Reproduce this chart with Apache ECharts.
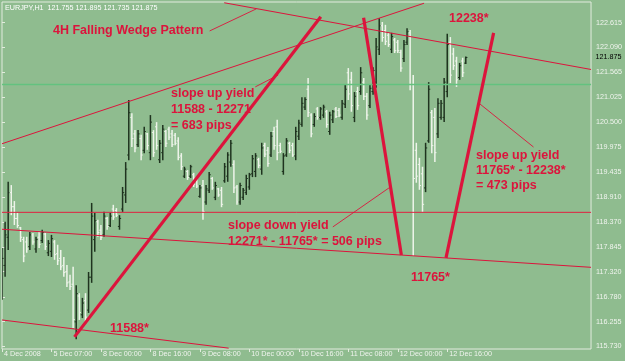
<!DOCTYPE html>
<html><head><meta charset="utf-8">
<script src="https://cdn.jsdelivr.net/npm/echarts@6/dist/echarts.min.js"></script>
<style>html,body{margin:0;padding:0;background:#8fbc8f;overflow:hidden}#c{width:625px;height:361px}</style>
</head><body><div id="c"></div><script>
const SYMBOL = 'EURJPY,H1';
const X_TICK_INDEX = [0,16,32,48,64,80,96,112,128,144];
const X_TICK_LABELS = ['4 Dec 2008','5 Dec 07:00','8 Dec 00:00','8 Dec 16:00','9 Dec 08:00','10 Dec 00:00','10 Dec 16:00','11 Dec 08:00','12 Dec 00:00','12 Dec 16:00'];
const Y_TICKS = [115.730,116.255,116.780,117.320,117.845,118.370,118.910,119.435,119.975,120.500,121.025,121.565,122.090,122.615];

const OPEN = [117.05,117.45,118.05,119.00,118.70,118.45,118.25,118.00,117.95,117.85,
118.10,117.80,118.05,117.98,118.12,117.72,117.75,117.95,117.70,117.60,
117.45,117.32,117.10,117.05,116.25,116.80,116.40,116.70,116.50,117.20,
118.00,118.38,118.20,118.10,118.45,118.30,118.65,118.62,118.28,118.65,
118.95,119.80,120.60,120.25,120.02,120.15,119.90,120.25,119.85,120.28,
120.40,119.70,119.85,120.30,120.35,120.25,120.22,120.10,119.78,119.35,
119.45,119.35,119.38,119.28,118.92,119.15,118.80,119.05,119.30,118.90,
119.08,119.05,119.25,119.35,119.65,119.60,119.12,118.80,118.90,119.00,
119.12,119.40,119.45,119.70,119.50,120.00,119.90,119.80,120.30,120.40,
120.00,119.45,119.80,120.05,120.00,119.78,120.20,120.45,120.82,121.20,
120.65,120.45,120.78,120.60,120.65,120.72,120.30,120.55,120.78,120.75,
120.60,120.88,121.55,121.40,120.60,121.15,121.15,121.35,121.05,120.85,
121.15,121.35,122.05,122.55,122.45,122.35,122.05,122.25,122.20,121.98,
121.85,122.20,122.40,121.30,119.90,119.60,119.40,119.10,120.10,120.70,
120.60,120.25,120.60,120.60,121.15,122.20,121.95,121.80,121.45,121.80,
121.755];
const HIGH = [117.82,118.38,119.23,119.16,118.82,118.57,118.27,118.06,118.06,118.16,
118.14,118.06,118.16,118.21,118.14,117.99,118.10,117.99,117.89,117.78,
117.63,117.46,117.25,117.42,117.03,116.86,116.76,116.86,117.31,118.78,
118.57,118.42,118.31,118.59,118.48,118.57,118.74,118.67,118.52,119.12,
119.65,120.97,120.69,120.33,120.33,120.23,120.40,120.27,120.65,120.33,
120.50,120.12,120.44,120.33,120.40,120.33,120.27,120.18,119.84,119.55,
119.48,119.59,119.42,119.33,119.16,119.27,119.16,119.44,119.33,119.23,
119.10,119.12,119.63,119.86,120.12,119.69,119.16,119.21,119.10,119.38,
119.42,119.80,119.84,119.74,120.06,120.06,119.97,120.29,120.40,120.55,
120.06,119.84,120.16,120.08,120.06,120.40,120.55,121.03,121.03,121.44,
120.69,120.69,120.82,120.82,120.87,120.76,120.72,120.76,120.82,120.80,
120.97,121.29,121.65,121.57,121.14,121.25,121.67,121.44,121.12,121.29,
121.67,122.29,122.71,122.63,122.57,122.40,122.40,122.29,122.25,122.04,
122.25,122.50,122.46,121.50,120.06,119.74,119.55,120.06,121.35,120.76,
120.80,121.01,120.97,121.44,122.38,122.31,122.08,121.89,121.76,121.87,
121.895];
const LOW = [116.72,117.21,117.78,118.52,118.31,118.25,117.95,117.52,117.72,117.78,
117.89,117.72,117.82,117.93,117.78,117.65,117.63,117.57,117.46,117.35,
117.21,116.99,116.93,116.12,115.88,116.29,116.33,116.23,116.44,117.08,
117.74,118.06,117.99,118.06,118.21,118.27,118.42,118.48,118.21,118.59,
118.78,119.69,119.97,119.86,119.97,119.69,119.84,119.91,119.69,119.76,
119.91,119.63,119.69,119.97,120.12,119.97,120.01,119.69,119.48,119.31,
119.27,119.31,119.12,119.10,118.89,118.42,118.74,118.99,119.06,118.84,
118.91,118.69,119.21,119.23,119.55,118.99,118.74,118.74,118.84,118.95,
119.06,119.33,119.33,119.52,119.38,119.76,119.55,119.76,119.91,119.69,
119.84,119.38,119.76,119.84,119.76,119.69,120.12,120.40,120.76,120.61,
120.18,120.40,120.55,120.55,120.59,120.38,120.23,120.48,120.59,120.61,
120.55,120.80,120.97,120.72,120.50,120.76,121.08,120.97,120.55,120.80,
121.08,121.23,121.93,122.21,122.14,122.10,121.97,121.97,121.97,121.57,
121.78,122.14,121.18,117.65,119.21,119.06,118.59,119.01,120.06,119.84,
119.65,120.16,120.55,120.50,121.03,121.33,121.61,121.25,121.40,121.46,
121.735];
const CLOSE = [117.60,118.10,119.00,118.70,118.45,118.30,118.05,117.65,117.80,118.10,
117.95,118.00,117.90,118.15,117.85,117.92,118.02,117.68,117.55,117.42,
117.30,117.08,117.00,116.30,116.85,116.45,116.65,116.35,117.20,118.50,
118.40,118.15,118.05,118.50,118.28,118.50,118.48,118.52,118.45,119.00,
119.50,120.70,120.15,119.95,120.25,119.80,120.30,120.00,120.50,119.85,
120.00,120.05,120.35,120.05,120.18,120.02,120.05,119.75,119.55,119.50,
119.32,119.55,119.18,119.14,119.10,118.60,119.08,119.38,119.10,119.15,
118.95,118.75,119.55,119.80,120.05,119.10,118.80,119.15,119.05,119.30,
119.38,119.72,119.78,119.58,119.95,119.82,119.62,120.20,120.00,119.85,
119.88,119.78,120.10,119.90,119.80,120.30,120.48,120.90,120.98,120.70,
120.25,120.62,120.60,120.78,120.82,120.45,120.65,120.72,120.62,120.65,
120.90,121.20,121.10,120.85,121.05,120.85,121.55,121.05,120.65,121.22,
121.60,122.10,122.55,122.30,122.22,122.15,122.32,122.02,122.02,121.65,
122.15,122.42,121.30,119.30,119.35,119.15,118.75,119.95,121.20,120.00,
119.85,120.90,120.90,121.35,122.15,121.50,121.70,121.40,121.70,121.55,
121.875];

// trend objects anchored at [bar index, price]
const CHANNEL_TOP = [[0,120.04],[136.5,123.03]];
const WEDGE_UPPER = [[71.87,123.04],[190.5,121.62]];
const WEDGE_LOWER = [[0,118.22],[190.5,117.41]];
const CHANNEL_BOTTOM = [[0,116.29],[73.3,115.69]];
const SLOPE_UP_1 = [[23.45,115.93],[103.1,122.74]];
const SLOPE_DOWN = [[116.95,122.72],[129.16,117.67]];
const SLOPE_UP_2 = [[143.6,117.61],[159.0,122.40]];
const HLINE_RED = 118.58;
const HLINE_GREEN = 121.30;
const CONNECTORS = [
  [[67.15,122.44],[82.25,122.91]],
  [[81.93,121.25],[89.3,121.50]],
  [[107.0,118.27],[125.6,119.12]],
  [[154.5,120.89],[171.9,119.97]]
];

const X_MAX = 190.5;
const RED = '#dc143c';
const BULL = '#1f331f';
const BEAR = '#eef4ea';
const AXIS_TXT = '#f0f4ee';
const FONT = '"Liberation Sans", Arial, sans-serif';

const bars = OPEN.map((o,i)=>[i,o,CLOSE[i],LOW[i],HIGH[i]]);

function renderBar(params, api){
  const x = api.value(0);
  const o = api.coord([x, api.value(1)]);
  const c = api.coord([x, api.value(2)]);
  const l = api.coord([x, api.value(3)]);
  const h = api.coord([x, api.value(4)]);
  const color = api.value(2) >= api.value(1) ? BULL : BEAR;
  const px = h[0];
  return {type:'group', children:[
    {type:'line', shape:{x1:px,y1:h[1],x2:px,y2:l[1]}, style:{stroke:color,lineWidth:1.5}},
    {type:'line', shape:{x1:px-1.6,y1:o[1],x2:px,y2:o[1]}, style:{stroke:color,lineWidth:1}},
    {type:'line', shape:{x1:px,y1:c[1],x2:px+1.6,y2:c[1]}, style:{stroke:color,lineWidth:1}}
  ]};
}

function lineSeries(data, width, color){
  return {type:'line', data, symbol:'none', silent:true, clip:true, animation:false,
    lineStyle:{color:color||RED, width:width}, z:3};
}

const series = [
  {type:'custom', renderItem:renderBar, data:bars, encode:{x:0,y:[1,2,3,4]}, animation:false, z:2, clip:true},
  lineSeries([[0,HLINE_GREEN],[X_MAX,HLINE_GREEN]], 1.5, '#63c27f'),
  lineSeries([[0,HLINE_RED],[X_MAX,HLINE_RED]], 1, '#e02040'),
  lineSeries(CHANNEL_TOP, 1),
  lineSeries(WEDGE_UPPER, 1),
  lineSeries(WEDGE_LOWER, 1),
  lineSeries(CHANNEL_BOTTOM, 1),
  lineSeries(SLOPE_UP_1, 3.2),
  lineSeries(SLOPE_DOWN, 3.2),
  lineSeries(SLOPE_UP_2, 3.2)
];
CONNECTORS.forEach(c=>series.push(lineSeries(c, 0.9)));

const chart = echarts.init(document.getElementById('c'), null, {renderer:'canvas'});
const annFont = 'bold 12.5px ' + FONT;
function ann(text, x, y){
  return {type:'text', x, y, z:10, style:{text, fill:RED, font:annFont, verticalAlign:'middle', align:'left'}};
}
const last = OPEN.length - 1;
const header = SYMBOL + '  ' + [OPEN[last],HIGH[last],LOW[last],CLOSE[last]].map(v=>v.toFixed(3)).join(' ');

chart.setOption({
  backgroundColor:'#8fbc8f',
  animation:false,
  grid:{left:2, right:30, top:2, bottom:12, show:true, borderColor:'#e2ebde', borderWidth:1, backgroundColor:'transparent'},
  xAxis:{type:'value', min:0, max:X_MAX, axisLine:{show:false}, splitLine:{show:false},
    axisTick:{show:true, customValues:X_TICK_INDEX, length:3, lineStyle:{color:'#e2ebde'}},
    axisLabel:{customValues:X_TICK_INDEX, formatter:v=>X_TICK_LABELS[X_TICK_INDEX.indexOf(v)] || '',
      color:AXIS_TXT, fontSize:7.2, fontFamily:FONT, align:'left', margin:2, padding:[0,0,0,2]}},
  yAxis:{type:'value', position:'right', min:115.672, max:123.056, axisLine:{show:false}, splitLine:{show:false},
    axisTick:{show:true, customValues:Y_TICKS, length:3, lineStyle:{color:'#e2ebde'}},
    axisLabel:{customValues:Y_TICKS, formatter:v=>v.toFixed(3), color:AXIS_TXT, fontSize:7.2, fontFamily:FONT, align:'left', margin:5}},
  series,
  graphic:[
    {type:'text', x:5, y:8, z:10, style:{text:header, fill:'#f4f6f2', font:'7.2px '+FONT, verticalAlign:'middle'}},
    {type:'text', x:4, y:342, z:10, style:{text:'MetaTrader - Alpari UK, \u00a9 2001-2008 MetaQuotes Software Corp.', fill:'#f4f6f2', font:'7.2px '+FONT, verticalAlign:'middle'}},
    ann('4H Falling Wedge Pattern', 53, 30.5),
    ann('slope up yield', 171, 93.5),
    ann('11588 - 12271', 171, 110),
    ann('= 683 pips', 171, 125.5),
    ann('slope down yield', 228, 226),
    ann('12271* - 11765* = 506 pips', 228, 241.5),
    ann('12238*', 449, 18.5),
    ann('11765*', 411, 277.5),
    ann('slope up yield', 476, 155.5),
    ann('11765* - 12238*', 476, 171),
    ann('= 473 pips', 476, 186),
    ann('11588*', 110, 328.5)
  ]
});

const p = chart.convertToPixel({gridIndex:0}, [X_MAX, CLOSE[last]]);
chart.setOption({graphic:[
  {type:'rect', z:11, shape:{x:p[0]+2.5, y:p[1]-4, width:30, height:8}, style:{fill:'#ffffff'}},
  {type:'text', z:12, x:p[0]+4.5, y:p[1], style:{text:CLOSE[last].toFixed(3), fill:'#000000', font:'7.2px '+FONT, verticalAlign:'middle'}}
]});
</script></body></html>
